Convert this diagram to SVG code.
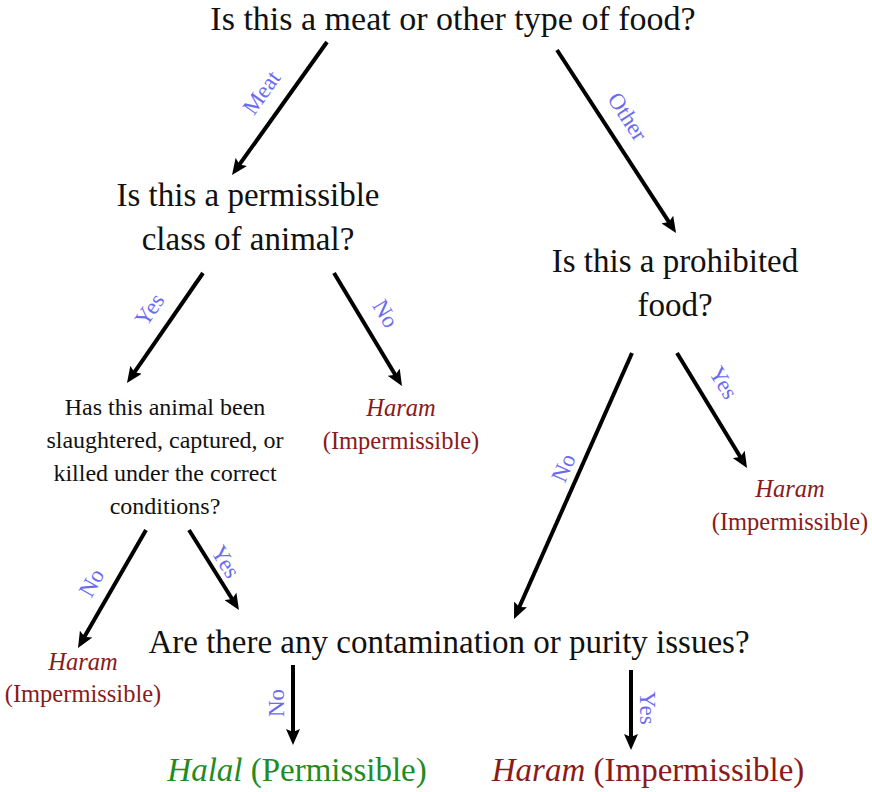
<svg xmlns="http://www.w3.org/2000/svg" width="872" height="792" viewBox="0 0 872 792">
<style>
text{font-family:"Liberation Serif","Times New Roman",serif;text-anchor:middle}
.q{font-size:33px;fill:#111}
.t{font-size:34px;fill:#111}
.c{font-size:24px;fill:#111}
.h{font-size:24.5px;fill:#8b1a1a}
.lbl{font-size:23px;fill:#6b6bf0}
.big{font-size:33px}
.red{fill:#8b1a1a}
.green{fill:#228b22}
.i{font-style:italic}
.e{stroke:#000;stroke-width:4;fill:none;marker-end:url(#ah)}
</style>
<defs>
<marker id="ah" viewBox="0 0 16 14" refX="4" refY="7" markerWidth="16" markerHeight="14" markerUnits="userSpaceOnUse" orient="auto">
<path d="M0,0 L16,7 L0,14 L3,7 Z" fill="#000"/>
</marker>
</defs>
<rect width="872" height="792" fill="#fff"/>
<g id="connectors">
<line class="e" x1="327" y1="42" x2="239" y2="165.2"/>
<line class="e" x1="557" y1="50" x2="669.5" y2="222.9"/>
<line class="e" x1="203" y1="273" x2="133.8" y2="373.1"/>
<line class="e" x1="334" y1="273" x2="395.8" y2="375.7"/>
<line class="e" x1="632" y1="353" x2="518.9" y2="608"/>
<line class="e" x1="677" y1="353" x2="740.8" y2="457.8"/>
<line class="e" x1="146" y1="530" x2="84" y2="637.6"/>
<line class="e" x1="189" y1="530" x2="232.6" y2="599.8"/>
<line class="e" x1="293" y1="665" x2="293" y2="733"/>
<line class="e" x1="631" y1="670" x2="631" y2="738"/>
<g class="lbl">
<text transform="translate(262,93) rotate(-54.5)" y="7">Meat</text>
<text transform="translate(627,117) rotate(57)" y="7">Other</text>
<text transform="translate(150,310) rotate(-55.5)" y="7">Yes</text>
<text transform="translate(385,314) rotate(59)" y="7">No</text>
<text transform="translate(564,468) rotate(-66)" y="7">No</text>
<text transform="translate(723,383) rotate(58.5)" y="7">Yes</text>
<text transform="translate(92,583) rotate(-60.5)" y="7">No</text>
<text transform="translate(225,562) rotate(58)" y="7">Yes</text>
<text transform="translate(277,703) rotate(-90)" y="7">No</text>
<text transform="translate(647,708) rotate(90)" y="7">Yes</text>
</g>
</g>
<g id="q-food"><text class="t" x="453" y="30">Is this a meat or other type of food?</text></g>
<g id="q-class"><text class="q" x="248" y="206">Is this a permissible</text><text class="q" x="248" y="250">class of animal?</text></g>
<g id="q-prohibited"><text class="q" x="675" y="272">Is this a prohibited</text><text class="q" x="675" y="316">food?</text></g>
<g id="haram-class"><text class="h i" x="401" y="416">Haram</text><text class="h" x="401" y="449">(Impermissible)</text></g>
<g id="q-slaughter"><text class="c" x="165" y="415">Has this animal been</text><text class="c" x="165" y="448">slaughtered, captured, or</text><text class="c" x="165" y="481">killed under the correct</text><text class="c" x="165" y="514">conditions?</text></g>
<g id="haram-prohibited"><text class="h i" x="790" y="497">Haram</text><text class="h" x="790" y="530">(Impermissible)</text></g>
<g id="haram-slaughter"><text class="h i" x="83" y="670">Haram</text><text class="h" x="83" y="702">(Impermissible)</text></g>
<g id="q-purity"><text class="q" x="449" y="653">Are there any contamination or purity issues?</text></g>
<g id="halal"><text class="big green" x="297" y="781"><tspan class="i">Halal</tspan> (Permissible)</text></g>
<g id="haram-final"><text class="big red" x="648" y="781"><tspan class="i">Haram</tspan> (Impermissible)</text></g>
</svg>
